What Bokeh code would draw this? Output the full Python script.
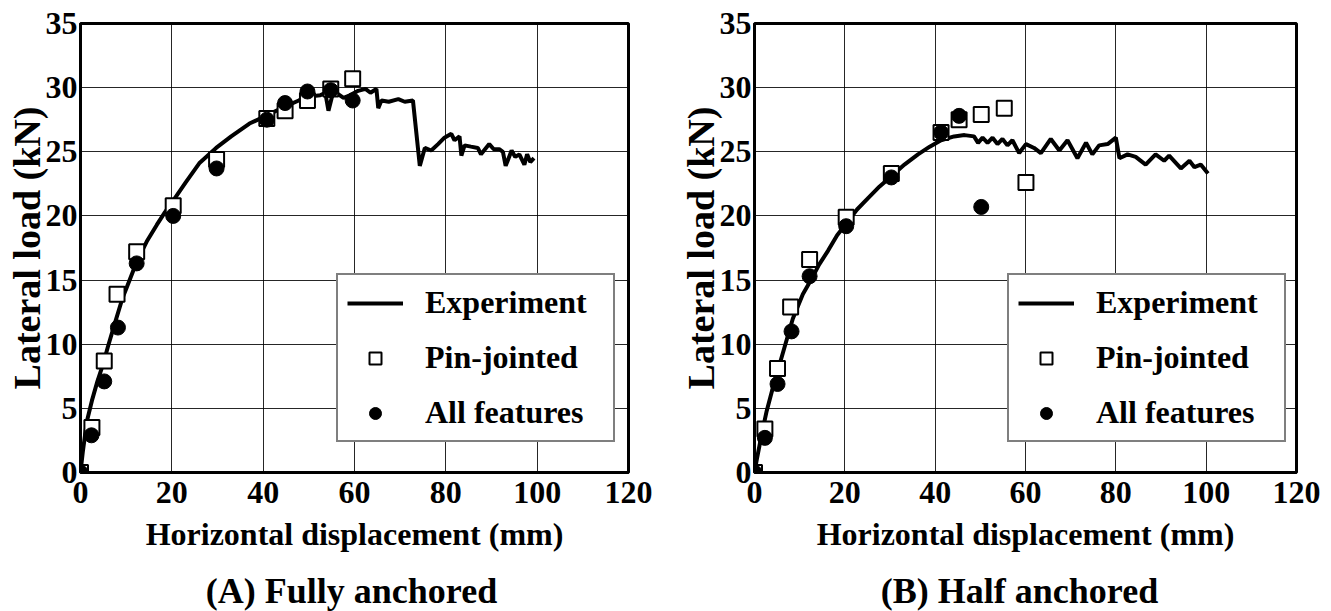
from bokeh.plotting import figure
from bokeh.layouts import row, column
from bokeh.models import Range1d, FixedTicker, Label
from bokeh.embed import file_html
from bokeh.resources import INLINE

# ---------------- data ----------------
x_ticks = [0, 20, 40, 60, 80, 100, 120]
y_ticks = [0, 5, 10, 15, 20, 25, 30, 35]

# (A) Fully anchored
a_exp_x = [0, 0.5, 1.4, 2.5, 3.7, 5, 6, 7.5, 9.2, 10.1, 12.4, 14.5, 16.7, 18.5, 20.3, 23, 26, 29.7, 33, 37,
           40.6, 44, 47.8, 50, 52.5, 53.6, 54.3, 55.4, 57.6, 59, 60.8, 62.4, 63.5, 64.8, 65.2, 65.9, 67.5,
           69.6, 71, 72.8, 74.3, 75.4, 76.8, 78.3, 79.7, 81.2, 81.9, 83, 83.4, 84.1, 85.5, 87, 87.7, 89.5,
           90.5, 91.7, 92.5, 93.1, 94.4, 95.2, 96.1, 97.2, 97.8, 98.5, 99.3]
a_exp_y = [0, 1.6, 4.0, 5.6, 7.1, 8.5, 9.8, 11.6, 13.6, 14.4, 16.5, 18.0, 19.3, 20.3, 21.2, 22.6, 24.1, 25.3,
           26.2, 27.2, 27.8, 28.4, 29.0, 29.3, 29.4, 29.6, 28.2, 29.75, 29.2, 29.4, 29.75, 29.9, 29.6, 29.9,
           28.4, 29.0, 28.9, 29.1, 28.9, 29.0, 23.9, 25.3, 25.1, 25.6, 26.1, 26.4, 25.9, 26.2, 24.7, 25.5,
           25.4, 25.3, 24.8, 25.6, 25.2, 25.2, 25.0, 23.9, 25.1, 24.6, 24.8, 24.0, 24.8, 24.2, 24.5]
a_pin_x = [0, 2.5, 5.2, 8.0, 12.3, 20.3, 29.8, 40.8, 44.8, 49.7, 54.8, 59.6]
a_pin_y = [0, 3.5, 8.7, 13.9, 17.2, 20.8, 24.4, 27.6, 28.2, 29.0, 29.9, 30.7]
a_all_x = [0, 2.4, 5.2, 8.2, 12.3, 20.3, 29.8, 40.8, 44.8, 49.7, 54.8, 59.6]
a_all_y = [0, 2.9, 7.1, 11.3, 16.3, 20.0, 23.7, 27.5, 28.8, 29.7, 29.8, 29.0]

# (B) Half anchored
b_exp_x = [0, 0.5, 1.6, 2.7, 3.9, 5.2, 6.6, 8.5, 10.7, 12.5, 14.3, 16.3, 18.3, 20.3, 22.7, 25.2, 27.7, 30.3,
           33.2, 36.2, 38.8, 41.3, 44.2, 46.5, 48.6, 49.5, 50.5, 51.6, 52.7, 53.8, 54.9, 56.0, 57.1, 58.6,
           60.1, 61.9, 63.4, 65.6, 67.5, 69.3, 71.5, 73.4, 74.8, 76.3, 78.2, 80.0, 80.8, 82.6, 84.4, 86.6,
           88.8, 90.7, 91.8, 94.4, 96.3, 97.4, 98.8, 100.4]
b_exp_y = [0, 1.0, 3.0, 4.8, 6.4, 8.0, 9.7, 12.0, 13.9, 15.0, 16.2, 17.3, 18.5, 19.4, 20.5, 21.4, 22.3, 23.1,
           24.0, 24.8, 25.4, 25.9, 26.2, 26.3, 26.2, 25.7, 26.1, 25.7, 26.1, 25.6, 26.0, 25.5, 25.9, 24.9,
           25.6, 25.3, 24.9, 26.0, 25.1, 25.9, 24.5, 25.7, 24.8, 25.5, 25.6, 26.1, 24.5, 24.8, 24.6, 24.0,
           24.8, 24.3, 24.7, 23.7, 24.3, 23.8, 24.0, 23.3]
b_pin_x = [0, 2.3, 5.1, 8.0, 12.2, 20.3, 30.3, 41.3, 45.3, 50.2, 55.3, 60.1]
b_pin_y = [0, 3.4, 8.1, 12.9, 16.6, 19.9, 23.3, 26.5, 27.5, 27.9, 28.4, 22.6]
b_all_x = [0, 2.3, 5.1, 8.2, 12.2, 20.3, 30.3, 41.3, 45.3, 50.2]
b_all_y = [0, 2.7, 6.9, 11.0, 15.3, 19.2, 23.0, 26.5, 27.8, 20.7]

series_labels = ["Experiment", "Pin-jointed", "All features"]
titles = ["(A) Fully anchored", "(B) Half anchored"]
x_label = "Horizontal displacement (mm)"
y_label = "Lateral load (kN)"

FONT = "Liberation Serif"
H_MAIN = 570
H_CAP = 41


def make_panel(exp_x, exp_y, pin_x, pin_y, all_x, all_y, width, mb_left, mb_right, leg_x):
    p = figure(width=width, height=H_MAIN, output_backend="svg", toolbar_location=None,
               x_range=Range1d(0, 120), y_range=Range1d(0, 35),
               min_border_left=mb_left, min_border_right=mb_right,
               min_border_top=23, min_border_bottom=H_MAIN - 472)
    p.background_fill_color = "white"
    p.border_fill_color = "white"
    p.outline_line_color = "black"
    p.outline_line_width = 3

    p.xaxis.ticker = FixedTicker(ticks=x_ticks)
    p.yaxis.ticker = FixedTicker(ticks=y_ticks)
    for ax in (p.xaxis[0], p.yaxis[0]):
        ax.axis_line_color = "black"
        ax.axis_line_width = 3
        ax.major_tick_in = 0
        ax.major_tick_out = 0
        ax.minor_tick_in = 0
        ax.minor_tick_out = 0
        ax.major_label_text_font = FONT
        ax.major_label_text_font_style = "bold"
        ax.major_label_text_font_size = "32px"
        ax.major_label_text_color = "black"
        ax.axis_label_text_font = FONT
        ax.axis_label_text_font_style = "bold"
        ax.axis_label_text_color = "black"
    p.xaxis.axis_label = x_label
    p.xaxis.axis_label_text_font_size = "32px"
    p.xaxis.major_label_standoff = 9
    p.xaxis.axis_label_standoff = 10
    p.yaxis.axis_label = y_label
    p.yaxis.axis_label_text_font_size = "38px"
    p.yaxis.major_label_standoff = 3
    p.yaxis.axis_label_standoff = -5

    p.xgrid.ticker = FixedTicker(ticks=x_ticks)
    p.ygrid.ticker = FixedTicker(ticks=y_ticks)
    for g in (p.xgrid[0], p.ygrid[0]):
        g.grid_line_color = "black"
        g.grid_line_width = 1
        g.grid_line_alpha = 0.85

    p.line(exp_x, exp_y, line_color="black", line_width=4, legend_label=series_labels[0])
    p.scatter(pin_x, pin_y, marker="square", size=15, fill_color="white", line_color="black",
              line_width=2, legend_label=series_labels[1])
    p.scatter(all_x, all_y, marker="circle", size=15, fill_color="black", line_color="black",
              legend_label=series_labels[2])

    lg = p.legend[0]
    lg.location = (leg_x, 30)
    lg.label_text_font = FONT
    lg.label_text_font_style = "bold"
    lg.label_text_font_size = "32px"
    lg.label_text_color = "black"
    lg.border_line_color = "black"
    lg.border_line_width = 2
    lg.background_fill_color = "white"
    lg.background_fill_alpha = 1
    lg.padding = 9
    lg.spacing = 18
    lg.margin = 0
    lg.glyph_width = 56
    lg.glyph_height = 30
    lg.label_height = 30
    lg.label_width = 179
    lg.label_standoff = 22
    return p


def make_caption(text, width, center_px):
    c = figure(width=width, height=H_CAP, output_backend="svg", toolbar_location=None,
               x_range=Range1d(0, width), y_range=Range1d(0, H_CAP),
               x_axis_type=None, y_axis_type=None,
               min_border_left=0, min_border_right=0, min_border_top=0, min_border_bottom=0)
    c.outline_line_color = None
    c.xgrid.visible = False
    c.ygrid.visible = False
    c.add_layout(Label(x=center_px, y=H_CAP / 2, text=text, text_align="center",
                       text_baseline="middle", text_font=FONT, text_font_style="bold",
                       text_font_size="36px", text_color="black"))
    return c


WA, WB = 676, 647
pa = make_panel(a_exp_x, a_exp_y, a_pin_x, a_pin_y, a_all_x, a_all_y, WA, 80, 48, 256)
pb = make_panel(b_exp_x, b_exp_y, b_pin_x, b_pin_y, b_all_x, b_all_y, WB, 77, 27, 253)
ca = make_caption(titles[0], WA, 351)
cb = make_caption(titles[1], WB, 343)

layout = column(row(pa, pb), row(ca, cb))
open("out.html", "w").write(file_html(layout, INLINE))
